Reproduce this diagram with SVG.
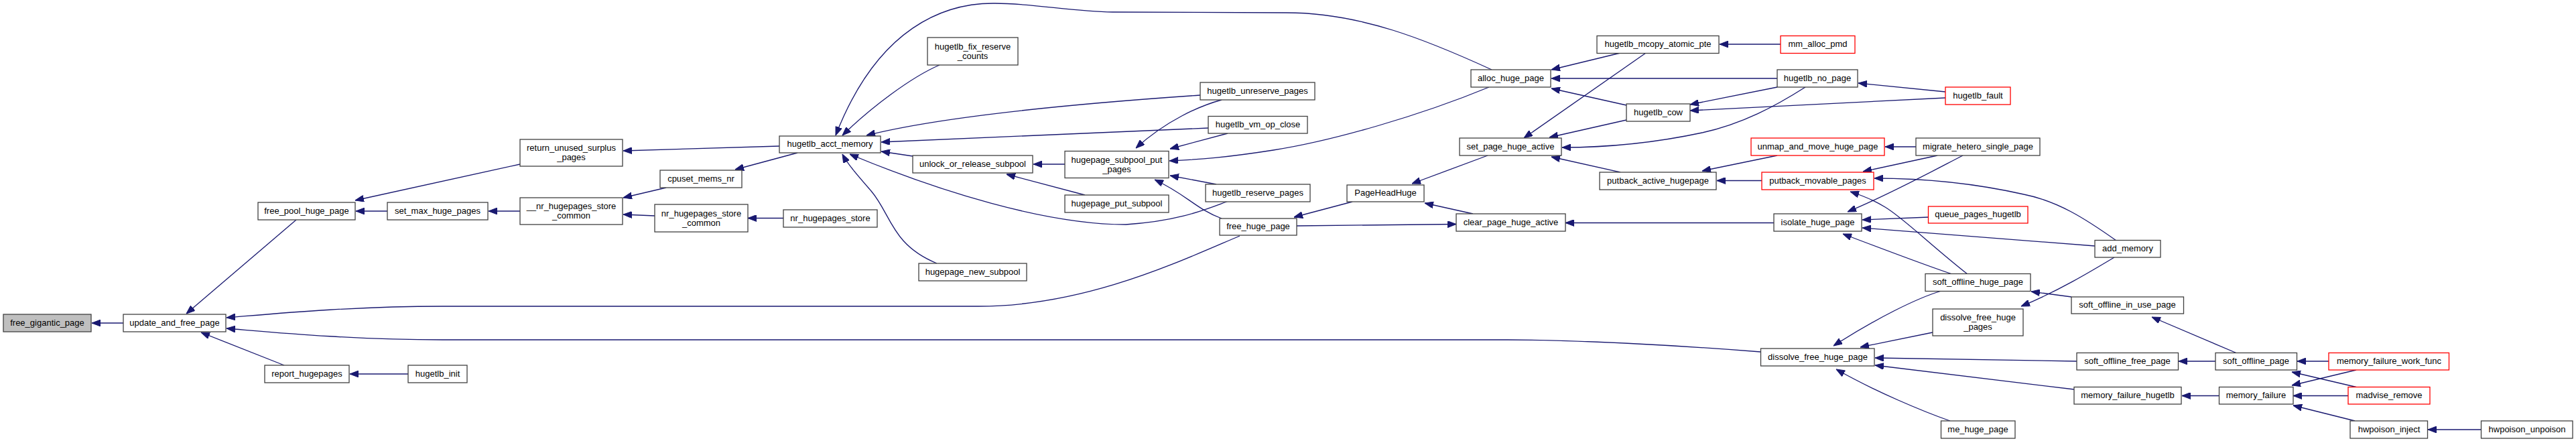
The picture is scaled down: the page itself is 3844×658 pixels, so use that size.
<svg xmlns="http://www.w3.org/2000/svg" width="3844" height="658" viewBox="0 0 3844 658">
<style>
.n rect{fill:#fff;stroke:#404040;stroke-width:1.3}
.n.root rect{fill:#bfbfbf}
.n.red rect{stroke:#ff0000}
.n text{font-family:"Liberation Sans",Arial,sans-serif;font-size:13px;fill:#000;text-anchor:middle}
#edges path{fill:none;stroke:#191970;stroke-width:1.3;marker-end:url(#ah)}
</style>
<defs>
<marker id="ah" markerUnits="userSpaceOnUse" markerWidth="13" markerHeight="10" viewBox="0 0 13 10" refX="13" refY="5" orient="auto">
<path d="M0,0 L13,5 L0,10 z" fill="#191970" stroke="#191970" stroke-width="1"/>
</marker>
</defs>
<rect width="3844" height="658" fill="#fff"/>
<g id="edges">
<path d="M184,482 L137,482"/>
<path d="M442,328 L278,468"/>
<path d="M424,545 L300,496"/>
<path d="M1850,352 C1760,390 1620,457 1460,457 L660,457 C520,457 400,469 338,474"/>
<path d="M2627,525 C2500,515 2350,507 2250,507 L660,507 C520,507 400,495 338,490"/>
<path d="M776,245 L530,299"/>
<path d="M578,315 L531,315"/>
<path d="M776,315 L729,315"/>
<path d="M994,280 L930,295"/>
<path d="M977,322 L930,320"/>
<path d="M1169,325.5 L1116,325.5"/>
<path d="M609,558 L522,558"/>
<path d="M1163,218 L930,225"/>
<path d="M1190,228 L1097,253"/>
<path d="M2226,104 C2130,60 2030,19 1920,19 L1660,18 C1600,17 1540,5 1485,5 C1410,4 1310,40 1247,202"/>
<path d="M1402,97 C1360,115 1300,160 1257,202"/>
<path d="M1791,142 C1600,155 1400,175 1293,202"/>
<path d="M1803,191 L1315,212"/>
<path d="M1362,233 L1315,226"/>
<path d="M1833,300 C1800,312 1760,330 1680,335 C1560,335 1400,285 1268,230"/>
<path d="M1398,393 C1330,365 1330,320 1300,285 C1280,262 1265,245 1257,230"/>
<path d="M1589,245 L1542,245"/>
<path d="M1619,291 L1502,260"/>
<path d="M1823,149 C1790,158 1740,180 1695,221"/>
<path d="M1832,199 L1746,222"/>
<path d="M2222,130 C2120,172 1990,210 1900,224 C1830,235 1790,238 1745,240"/>
<path d="M1815,275 L1746,262"/>
<path d="M1823,326 C1785,312 1770,290 1723,268"/>
<path d="M2018,301 L1931,324"/>
<path d="M1935,337 L2173,334.5"/>
<path d="M2198,319 L2126,303"/>
<path d="M2220,232 L2107,274"/>
<path d="M2647,332.5 L2336,332.5"/>
<path d="M2418,79 L2315,104"/>
<path d="M2652,117 L2315,117"/>
<path d="M2427,157 L2315,132"/>
<path d="M2456,79 L2274,206"/>
<path d="M2427,179 L2312,205"/>
<path d="M2694,130 C2650,158 2600,185 2540,198 C2470,213 2400,220 2331,220"/>
<path d="M2418,257 L2315,234"/>
<path d="M2657,66 L2566,66"/>
<path d="M2903,137 L2773,124"/>
<path d="M2903,146 L2522,165"/>
<path d="M2652,130 L2522,156"/>
<path d="M2652,232 L2540,255"/>
<path d="M2629,269.5 L2562,269.5"/>
<path d="M2859,219 L2813,219"/>
<path d="M2891,232 L2780,256"/>
<path d="M2929,232 C2890,252 2820,290 2757,316"/>
<path d="M3158,359 C3110,325 3070,300 3020,290 C2940,272 2870,266 2797,266"/>
<path d="M2936,409 C2880,365 2840,325 2813,309 C2795,298 2780,292 2761,286"/>
<path d="M2878,324 L2779,328"/>
<path d="M3126,367 L2779,340"/>
<path d="M2913,409 C2880,398 2800,368 2750,349"/>
<path d="M3091,443 L3031,435"/>
<path d="M3155,384 C3120,405 3070,435 3016,457"/>
<path d="M2897,434 C2860,445 2800,475 2736,516"/>
<path d="M2884,496 L2776,518"/>
<path d="M3099,539 L2798,534"/>
<path d="M3095,581 L2798,545"/>
<path d="M2910,628 C2870,614 2800,585 2740,551"/>
<path d="M3338,527 L3211,473"/>
<path d="M3306,539 L3251,539"/>
<path d="M3311,590.5 L3256,590.5"/>
<path d="M3475,539 L3428,539"/>
<path d="M3516,577.5 L3420,555"/>
<path d="M3516,552 L3420,575"/>
<path d="M3504,590.5 L3422,590.5"/>
<path d="M3514,628 L3422,605"/>
<path d="M3702,641 L3623,641"/>
</g>
<g id="n_free_gigantic_page" class="n root"><rect x="5" y="469" width="131" height="26"/><text x="70.5" y="485.5">free_gigantic_page</text></g>
<g id="n_update_and_free_page" class="n"><rect x="184" y="469" width="153" height="26"/><text x="260.5" y="485.5">update_and_free_page</text></g>
<g id="n_free_pool_huge_page" class="n"><rect x="385" y="302" width="145" height="26"/><text x="457.5" y="318.5">free_pool_huge_page</text></g>
<g id="n_report_hugepages" class="n"><rect x="395" y="545" width="126" height="26"/><text x="458" y="561.5">report_hugepages</text></g>
<g id="n_set_max_huge_pages" class="n"><rect x="578" y="302" width="150" height="26"/><text x="653" y="318.5">set_max_huge_pages</text></g>
<g id="n_hugetlb_init" class="n"><rect x="609" y="545" width="88" height="26"/><text x="653" y="561.5">hugetlb_init</text></g>
<g id="n_return_unused_surplus_pages" class="n"><rect x="776" y="208" width="153" height="40"/><text x="852.5" y="225">return_unused_surplus</text><text x="852.5" y="239">_pages</text></g>
<g id="n___nr_hugepages_store_common" class="n"><rect x="776" y="295" width="153" height="40"/><text x="852.5" y="312">__nr_hugepages_store</text><text x="852.5" y="326">_common</text></g>
<g id="n_cpuset_mems_nr" class="n"><rect x="985" y="254" width="122" height="26"/><text x="1046" y="270.5">cpuset_mems_nr</text></g>
<g id="n_nr_hugepages_store_common" class="n"><rect x="977" y="305" width="139" height="41"/><text x="1046.5" y="322.5">nr_hugepages_store</text><text x="1046.5" y="336.5">_common</text></g>
<g id="n_nr_hugepages_store" class="n"><rect x="1169" y="313" width="140" height="26"/><text x="1239" y="329.5">nr_hugepages_store</text></g>
<g id="n_hugetlb_acct_memory" class="n"><rect x="1163" y="203" width="151" height="25"/><text x="1238.5" y="219">hugetlb_acct_memory</text></g>
<g id="n_hugetlb_fix_reserve_counts" class="n"><rect x="1384" y="56" width="135" height="41"/><text x="1451.5" y="73.5">hugetlb_fix_reserve</text><text x="1451.5" y="87.5">_counts</text></g>
<g id="n_unlock_or_release_subpool" class="n"><rect x="1362" y="232" width="179" height="26"/><text x="1451.5" y="248.5">unlock_or_release_subpool</text></g>
<g id="n_hugepage_new_subpool" class="n"><rect x="1371" y="393" width="161" height="26"/><text x="1451.5" y="409.5">hugepage_new_subpool</text></g>
<g id="n_hugepage_subpool_put_pages" class="n"><rect x="1589" y="225.5" width="155" height="40"/><text x="1666.5" y="242.5">hugepage_subpool_put</text><text x="1666.5" y="256.5">_pages</text></g>
<g id="n_hugepage_put_subpool" class="n"><rect x="1589" y="291" width="155" height="26"/><text x="1666.5" y="307.5">hugepage_put_subpool</text></g>
<g id="n_hugetlb_unreserve_pages" class="n"><rect x="1791" y="123" width="171" height="26"/><text x="1876.5" y="139.5">hugetlb_unreserve_pages</text></g>
<g id="n_hugetlb_vm_op_close" class="n"><rect x="1803" y="173.5" width="148" height="25.5"/><text x="1877" y="190">hugetlb_vm_op_close</text></g>
<g id="n_hugetlb_reserve_pages" class="n"><rect x="1799" y="275" width="156" height="26"/><text x="1877" y="291.5">hugetlb_reserve_pages</text></g>
<g id="n_free_huge_page" class="n"><rect x="1820" y="326" width="115" height="25"/><text x="1877.5" y="342">free_huge_page</text></g>
<g id="n_alloc_huge_page" class="n"><rect x="2195" y="104" width="119" height="26"/><text x="2254.5" y="120.5">alloc_huge_page</text></g>
<g id="n_hugetlb_mcopy_atomic_pte" class="n"><rect x="2383" y="53.5" width="182" height="26"/><text x="2474" y="70">hugetlb_mcopy_atomic_pte</text></g>
<g id="n_hugetlb_cow" class="n"><rect x="2427" y="155" width="95" height="26"/><text x="2474.5" y="171.5">hugetlb_cow</text></g>
<g id="n_set_page_huge_active" class="n"><rect x="2178" y="206" width="152" height="26"/><text x="2254" y="222.5">set_page_huge_active</text></g>
<g id="n_PageHeadHuge" class="n"><rect x="2010" y="276" width="115" height="25"/><text x="2067.5" y="292">PageHeadHuge</text></g>
<g id="n_putback_active_hugepage" class="n"><rect x="2387" y="257" width="174" height="26"/><text x="2474" y="273.5">putback_active_hugepage</text></g>
<g id="n_clear_page_huge_active" class="n"><rect x="2173" y="319" width="163" height="26"/><text x="2254.5" y="335.5">clear_page_huge_active</text></g>
<g id="n_mm_alloc_pmd" class="n red"><rect x="2657" y="53.5" width="111" height="26"/><text x="2712.5" y="70">mm_alloc_pmd</text></g>
<g id="n_hugetlb_no_page" class="n"><rect x="2652" y="104" width="120" height="26"/><text x="2712" y="120.5">hugetlb_no_page</text></g>
<g id="n_hugetlb_fault" class="n red"><rect x="2903" y="130" width="97" height="26"/><text x="2951.5" y="146.5">hugetlb_fault</text></g>
<g id="n_unmap_and_move_huge_page" class="n red"><rect x="2613" y="206" width="199" height="26"/><text x="2712.5" y="222.5">unmap_and_move_huge_page</text></g>
<g id="n_migrate_hetero_single_page" class="n"><rect x="2859" y="206" width="185" height="26"/><text x="2951.5" y="222.5">migrate_hetero_single_page</text></g>
<g id="n_putback_movable_pages" class="n red"><rect x="2629" y="257" width="167" height="26"/><text x="2712.5" y="273.5">putback_movable_pages</text></g>
<g id="n_isolate_huge_page" class="n"><rect x="2647" y="319" width="131" height="26"/><text x="2712.5" y="335.5">isolate_huge_page</text></g>
<g id="n_queue_pages_hugetlb" class="n red"><rect x="2877.5" y="308" width="148.5" height="25"/><text x="2951.5" y="324">queue_pages_hugetlb</text></g>
<g id="n_add_memory" class="n"><rect x="3126" y="358.5" width="98" height="25.5"/><text x="3175" y="375">add_memory</text></g>
<g id="n_soft_offline_huge_page" class="n"><rect x="2873" y="408.5" width="157" height="26"/><text x="2951.5" y="425">soft_offline_huge_page</text></g>
<g id="n_soft_offline_in_use_page" class="n"><rect x="3091" y="443" width="167.5" height="25"/><text x="3174.5" y="459">soft_offline_in_use_page</text></g>
<g id="n_dissolve_free_huge_pages" class="n"><rect x="2884" y="461" width="135" height="40"/><text x="2951.5" y="478">dissolve_free_huge</text><text x="2951.5" y="492">_pages</text></g>
<g id="n_dissolve_free_huge_page" class="n"><rect x="2627.5" y="520" width="169.5" height="26"/><text x="2712.5" y="536.5">dissolve_free_huge_page</text></g>
<g id="n_soft_offline_free_page" class="n"><rect x="3099" y="526.5" width="151.5" height="25.5"/><text x="3174.5" y="543">soft_offline_free_page</text></g>
<g id="n_memory_failure_hugetlb" class="n"><rect x="3095" y="577.5" width="160" height="25.5"/><text x="3175" y="594">memory_failure_hugetlb</text></g>
<g id="n_me_huge_page" class="n"><rect x="2896.5" y="628" width="110.5" height="26"/><text x="2951.5" y="644.5">me_huge_page</text></g>
<g id="n_soft_offline_page" class="n"><rect x="3306" y="526.5" width="121.5" height="25.5"/><text x="3366.5" y="543">soft_offline_page</text></g>
<g id="n_memory_failure_work_func" class="n red"><rect x="3475" y="526.5" width="179.5" height="25.5"/><text x="3565" y="543">memory_failure_work_func</text></g>
<g id="n_memory_failure" class="n"><rect x="3311.5" y="577.5" width="110.5" height="25.5"/><text x="3366.5" y="594">memory_failure</text></g>
<g id="n_madvise_remove" class="n red"><rect x="3504" y="577.5" width="122" height="25.5"/><text x="3565" y="594">madvise_remove</text></g>
<g id="n_hwpoison_inject" class="n"><rect x="3507" y="628" width="115.5" height="26"/><text x="3565" y="644.5">hwpoison_inject</text></g>
<g id="n_hwpoison_unpoison" class="n"><rect x="3702.5" y="628" width="136.5" height="26"/><text x="3771" y="644.5">hwpoison_unpoison</text></g>
</svg>
